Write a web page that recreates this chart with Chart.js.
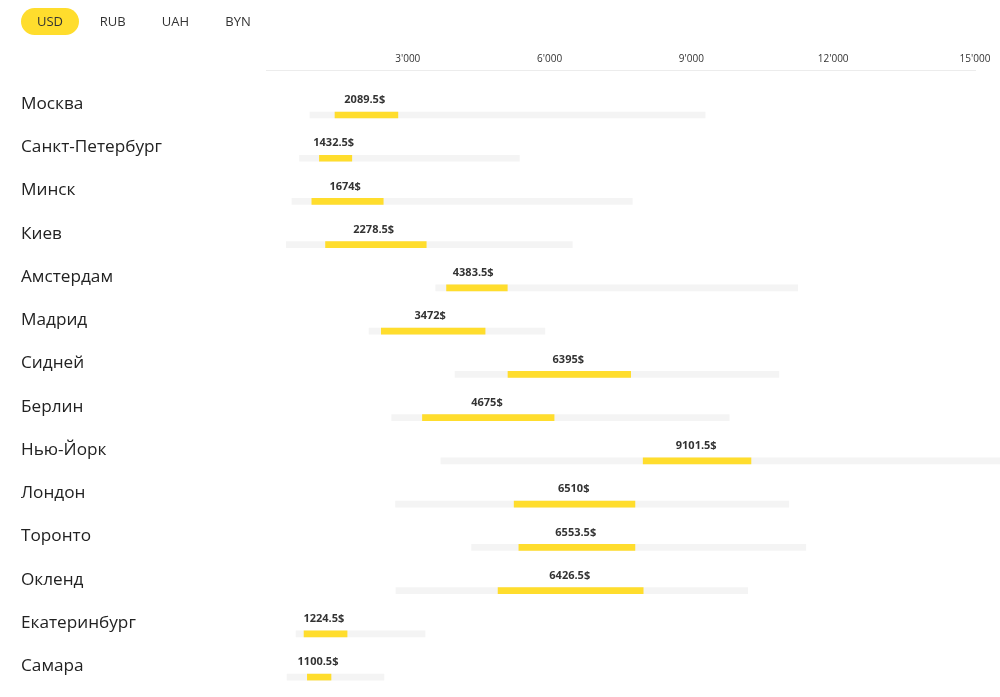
<!DOCTYPE html>
<html lang="ru">
<head>
<meta charset="utf-8">
<title>Зарплаты по городам</title>
<script src="https://cdn.jsdelivr.net/npm/chart.js@4.4.1/dist/chart.umd.min.js"></script>
<style>
  html, body { margin: 0; padding: 0; background: #fff; overflow: hidden; }
  body { font-family: 'Open Sans', sans-serif; }
  .valuty { position: absolute; left: 21px; top: 8px; z-index: 2; display: flex; }
  .valuty span {
    display: inline-block; width: 58px; height: 27px; line-height: 27px;
    margin-right: 4.7px; border-radius: 14px; text-align: center;
    font-size: 13px; color: #333;
  }
  .valuty span.active { background: #ffdd2d; }
  .grafik { position: absolute; left: 0; top: 0; width: 1000px; height: 700px; }
</style>
</head>
<body>
<div class="valuty">
  <span class="active">USD</span><span>RUB</span><span>UAH</span><span>BYN</span>
</div>
<div class="grafik"><canvas id="zarplaty"></canvas></div>

<script>
// города (сверху вниз)
const goroda = ["Москва", "Санкт-Петербург", "Минск", "Киев", "Амстердам", "Мадрид", "Сидней",
  "Берлин", "Нью-Йорк", "Лондон", "Торонто", "Окленд", "Екатеринбург", "Самара"];

// весь разброс: от и до
const minZp = [930, 710, 550, 430, 3590, 2180, 4000, 2660, 3700, 2740, 4350, 2750, 635, 445];
const maxZp = [9290, 5360, 7750, 6480, 11250, 5900, 10850, 9800, 16500, 11060, 11420, 10190, 3365, 2495];

// жёлтая часть (середина)
const nizZp = [1460, 1130, 970, 1260, 3820, 2440, 5120, 3310, 7980, 5250, 5350, 4910, 805, 875];
const verhZp = [2790, 1815, 2480, 3390, 5105, 4635, 7715, 6095, 10260, 7805, 7805, 7980, 1715, 1375];

// медиана, подпись над полосой
const mediana = [2089.5, 1432.5, 1674, 2278.5, 4383.5, 3472, 6395, 4675, 9101.5, 6510, 6553.5, 6426.5, 1224.5, 1100.5];

// деления оси
const shagOsi = 3000;
const maxOsi = 15000;

Chart.defaults.font.family = "'Open Sans', sans-serif";

// 3000 -> 3'000
function sTysyachami(v) {
    return String(v).replace(/\B(?=(\d{3})+(?!\d))/g, "'");
}

// подписи медианы над жёлтой полосой
const podpisiMediany = {
    id: "podpisiMediany",
    afterDatasetsDraw(chart) {
        const ctx = chart.ctx;
        const x = chart.scales.x;
        const y = chart.scales.y;
        ctx.save();
        ctx.font = "bold 11px 'Open Sans', sans-serif";
        ctx.fillStyle = "#333";
        ctx.textAlign = "center";
        ctx.textBaseline = "middle";
        mediana.forEach((m, i) => {
            ctx.fillText(m + "$", x.getPixelForValue(m), y.getPixelForValue(i) - 15);
        });
        ctx.restore();
    }
};

new Chart(document.getElementById("zarplaty"), {
    type: "bar",
    data: {
        datasets: [
            {
                label: "разброс",
                data: goroda.map((g, i) => ({ y: i, x: [minZp[i], maxZp[i]] })),
                backgroundColor: "#f4f4f4",
                order: 1
            },
            {
                label: "середина",
                data: goroda.map((g, i) => ({ y: i, x: [nizZp[i], verhZp[i]] })),
                backgroundColor: "#ffdd2d",
                order: 0
            }
        ]
    },
    options: {
        indexAxis: "y",
        responsive: true,
        maintainAspectRatio: false,
        animation: false,
        layout: { padding: { left: 21, top: 48, right: 25, bottom: 0 } },
        datasets: {
            bar: { grouped: false, barThickness: 6, borderWidth: 0, borderSkipped: false, clip: false }
        },
        plugins: {
            legend: { display: false },
            tooltip: { enabled: false }
        },
        scales: {
            x: {
                position: "top",
                min: 0,
                max: maxOsi,
                grid: { display: false, drawTicks: false },
                border: { color: "#ececec", width: 1 },
                ticks: {
                    stepSize: shagOsi,
                    padding: 5,
                    color: "#333",
                    font: { size: 10 },
                    callback: v => (v === 0 ? "" : sTysyachami(v))
                }
            },
            y: {
                type: "linear",
                reverse: true,
                offset: false,
                bounds: "data",
                min: -1.04,
                max: 13.53,
                grid: { display: false, drawTicks: false },
                border: { display: false },
                // одна подпись на каждый город
                afterBuildTicks: s => {
                    s.ticks = goroda.map((g, i) => ({ value: i }));
                },
                afterFit: s => {
                    s.width = 245;
                    s.paddingBottom = 0;
                },
                ticks: {
                    crossAlign: "far",
                    labelOffset: -11,
                    color: "#222",
                    font: { size: 17.2 },
                    callback: v => goroda[v] || ""
                }
            }
        }
    },
    plugins: [podpisiMediany]
});
</script>
</body>
</html>
